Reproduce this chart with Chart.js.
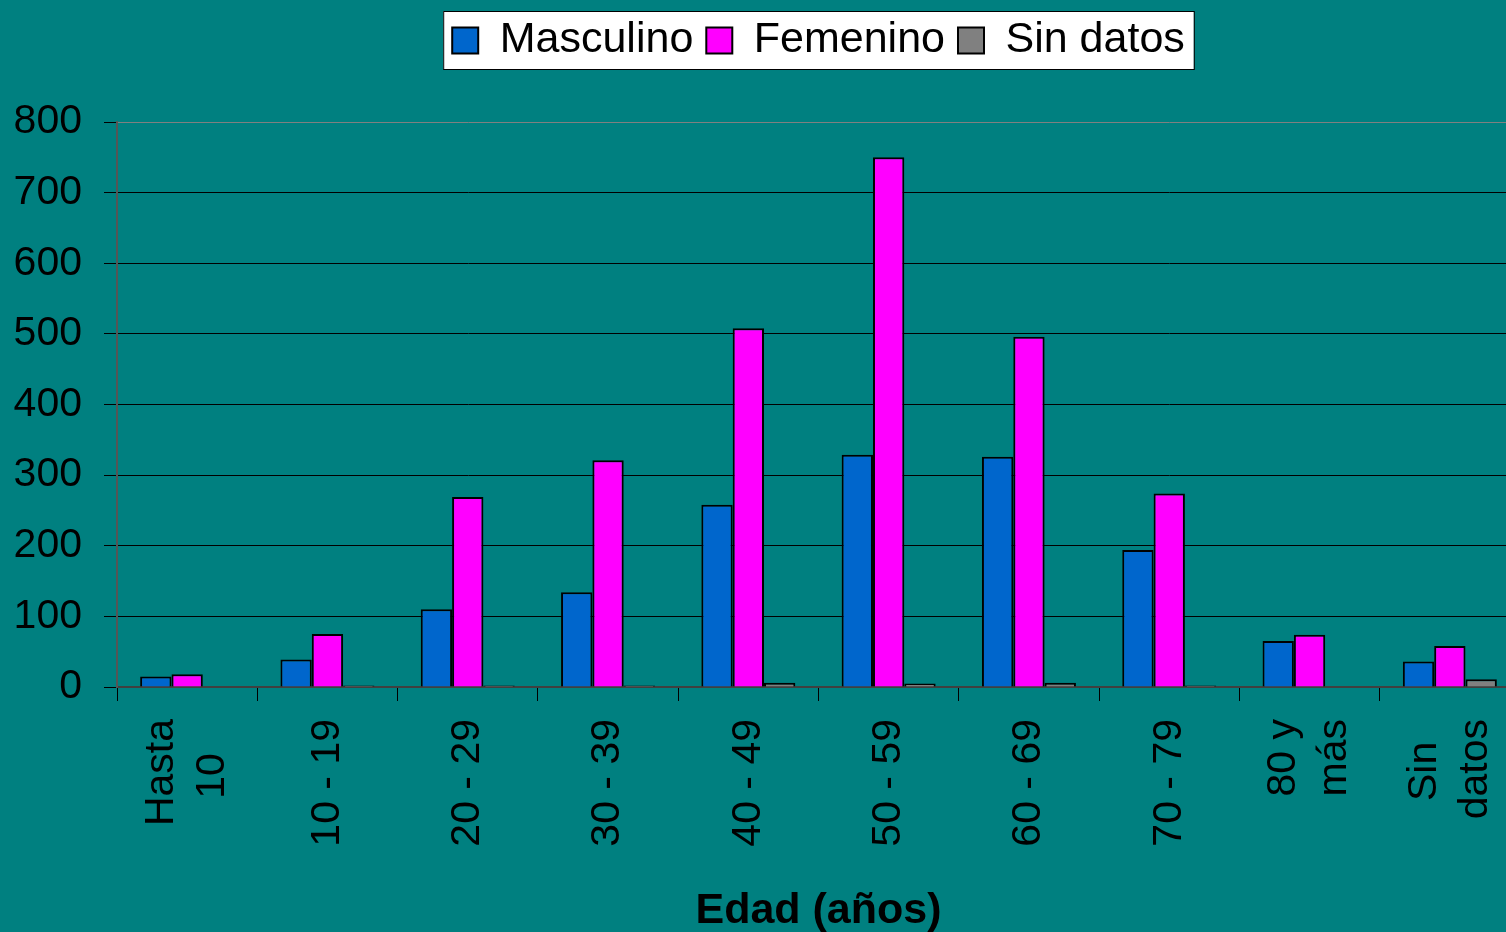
<!DOCTYPE html>
<html lang="es">
<head>
<meta charset="utf-8">
<title>Casos por edad y sexo</title>
<script src="https://cdn.jsdelivr.net/npm/chart.js@4.4.0/dist/chart.umd.min.js"></script>
<style>
  html, body { margin: 0; padding: 0; overflow: hidden; background: #008080; }
  #miGrafica { display: block; background: #008080; }
</style>
</head>
<body>
<canvas id="miGrafica" width="1521" height="932"></canvas>
<script>
// categorias del eje horizontal (grupos de edad)
const edades = [['Hasta', '10'], '10 - 19', '20 - 29', '30 - 39', '40 - 49', '50 - 59', '60 - 69', '70 - 79', ['80 y', 'más'], ['Sin', 'datos']];
// cantidades
const masculino = [15, 39, 110, 134, 258, 329, 326, 194, 65, 36];
const femenino = [18, 75, 269, 321, 508, 750, 496, 274, 74, 58];
const sinDatos = [0, 2, 2, 2, 6, 5, 6, 2, 0, 11];
const ticksY = [0, 100, 200, 300, 400, 500, 600, 700, 800];

const fuente = '"Liberation Sans", Arial, sans-serif';
const tamEtiqueta = 41;
const medioRenglon = tamEtiqueta * 1.25 / 2; // las etiquetas usan medio renglon por linea
Chart.defaults.font.family = fuente;
Chart.defaults.color = '#000';

// centra las etiquetas: lineas cortas con espacios y renglones vacios intercalados
const medir = document.createElement('canvas').getContext('2d');
medir.font = tamEtiqueta + 'px ' + fuente;
function centrarLineas(lab) {
  if (!Array.isArray(lab)) return ['', lab];
  const anchos = lab.map(t => medir.measureText(t).width);
  const max = Math.max(...anchos);
  const esp = medir.measureText(' ').width;
  const res = [];
  lab.forEach((t, i) => {
    if (i > 0) res.push('');
    res.push(t + ' '.repeat(Math.round((max - anchos[i]) / 2 / esp)));
  });
  return res;
}

// recuadro blanco detras de la leyenda
const fondoLeyenda = {
  id: 'fondoLeyenda',
  beforeDraw(chart) {
    const cajas = chart.legend && chart.legend.legendHitBoxes;
    if (!cajas || !cajas.length) return;
    const izq = cajas[0].left - 9;
    const der = cajas[cajas.length - 1].left + cajas[cajas.length - 1].width + 9;
    const arr = cajas[0].top - 8;
    const alto = cajas[0].height + 15;
    const ctx = chart.ctx;
    ctx.save();
    ctx.fillStyle = '#fff';
    ctx.fillRect(izq, arr, der - izq, alto);
    ctx.strokeStyle = '#000';
    ctx.lineWidth = 1;
    ctx.strokeRect(izq + 0.5, arr + 0.5, der - izq, alto);
    ctx.restore();
  }
};

const ctx = document.getElementById('miGrafica').getContext('2d');
const grafica = new Chart(ctx, {
  type: 'bar',
  data: {
    labels: edades,
    datasets: [
      { label: 'Masculino', data: masculino, backgroundColor: '#0066CC', borderColor: '#000', borderWidth: 2 },
      { label: 'Femenino', data: femenino, backgroundColor: '#FF00FF', borderColor: '#000', borderWidth: 2 },
      { label: 'Sin datos', data: sinDatos, backgroundColor: '#808080', borderColor: '#000', borderWidth: 2 }
    ]
  },
  options: {
    responsive: false,
    animation: false,
    layout: { padding: { top: 6, right: 1, bottom: 0, left: 0 } },
    datasets: { bar: { categoryPercentage: 0.67, barPercentage: 1 } },
    plugins: {
      tooltip: { enabled: false },
      legend: {
        position: 'top',
        fullSize: false,
        labels: { boxWidth: 26, boxHeight: 26, padding: 13, color: '#000', font: { size: 43 } }
      },
      // subtitulo vacio: solo deja aire entre la leyenda y el grafico
      subtitle: {
        display: true, text: '', position: 'top', fullSize: false, weight: 500,
        font: { size: 40, lineHeight: '40px' }, padding: { top: 5, bottom: 5 }
      }
    },
    scales: {
      x: {
        afterFit(scale) { scale.height = 245; scale.paddingLeft = 0; scale.paddingRight = 0; },
        grid: { offset: true, drawOnChartArea: false, tickLength: 14, color: '#000', tickColor: '#000' },
        border: { color: '#404040', width: 2 },
        ticks: {
          autoSkip: false, maxRotation: 90, minRotation: 90, padding: 18,
          labelOffset: -medioRenglon,
          color: '#000', font: { size: tamEtiqueta, lineHeight: medioRenglon + 'px' },
          callback: function(v) { return centrarLineas(this.getLabelForValue(v)); }
        },
        title: { display: true, text: 'Edad (años)', color: '#000', font: { size: 43, weight: 'bold', lineHeight: '42px' }, padding: { top: 0, bottom: 0 } }
      },
      y: {
        min: ticksY[0],
        max: ticksY[ticksY.length - 1],
        afterFit(scale) { scale.width = 117; },
        afterBuildTicks(scale) { scale.ticks = ticksY.map(v => ({ value: v })); },
        grid: {
          color: c => (c.tick && c.tick.value === 800 ? '#808080' : '#000'),
          tickColor: '#000', tickLength: 13, lineWidth: 1
        },
        border: { color: '#555', width: 2 },
        ticks: { autoSkip: false, padding: 22, color: '#000', font: { size: 41 } }
      }
    }
  },
  plugins: [fondoLeyenda]
});
</script>
</body>
</html>
